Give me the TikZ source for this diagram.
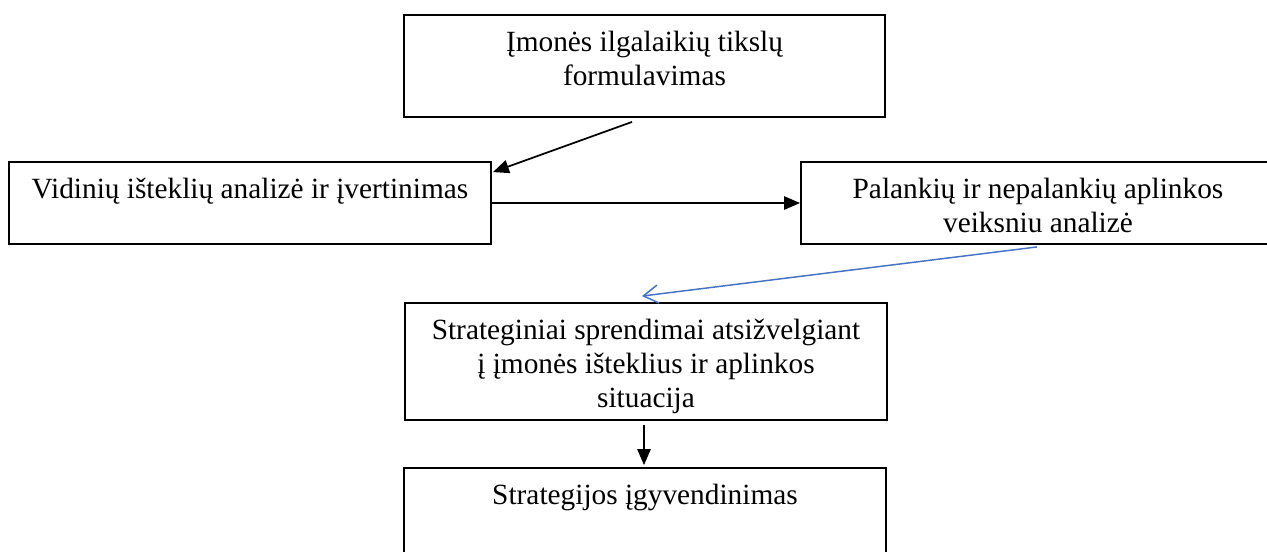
\documentclass[tikz,border=0pt]{standalone}
\usepackage{fontspec}
\setmainfont{Liberation Serif}
\usetikzlibrary{arrows.meta,calc}
\definecolor{linkblue}{RGB}{68,114,196}
% text block of fixed size, top aligned and centred; #1 moves the text centre left
\newcommand{\boxtext}[4][0pt]{\begin{minipage}[c][#3][t]{#2}\centering\rightskip=#1 plus 1fil\rule{0pt}{27.5pt}#4\end{minipage}}
\begin{document}
\begin{tikzpicture}[x=0.75pt,y=-0.75pt,
  stepbox/.style={draw,line width=1.4pt,inner sep=0pt,font=\fontsize{22pt}{25.5pt}\selectfont},
  arr/.style={line width=1.3pt,-{Triangle[length=12pt,width=10pt]}},
  barb/.style={draw=linkblue,line width=1.1pt,-{Straight Barb[length=11pt,width=13.5pt]}}]
\fill[white] (0,0) rectangle (1267,551);
\useasboundingbox (0,0) rectangle (1267,551);
\clip (0,0) rectangle (1267,551);

\node[stepbox] (goals) at (644.5,66)
  {\boxtext{360.75pt}{76.5pt}{Įmonės ilgalaikių tikslų\\formulavimas}};
\node[stepbox] (inner) at (250,203)
  {\boxtext{361.5pt}{61.5pt}{Vidinių išteklių analizė ir įvertinimas}};
% this box runs past the right edge of the page
\node[stepbox] (outer) at (1081,203)
  {\boxtext[64.5pt]{420pt}{61.5pt}{Palankių ir nepalankių aplinkos\\veiksniu analizė}};
\node[stepbox] (decide) at (646,361.5)
  {\boxtext{361.5pt}{87.75pt}{Strateginiai sprendimai atsižvelgiant\\į įmonės išteklius ir aplinkos\\situacija}};
\node[stepbox] (impl) at (645,526.5)
  {\boxtext{361.5pt}{87.75pt}{Strategijos įgyvendinimas}};

\draw[arr] ($(goals.south)+(-12.5,4)$) -- ($(inner.north east)+(1,11)$);
\draw[arr] (inner.east) -- (outer.west);
\draw[barb] ($(outer.south)+(-44,2)$) -- ($(decide.north)+(-4,-6)$);
\draw[arr] ($(decide.south)+(-2,4)$) -- ($(impl.north)+(-1,-2)$);
\end{tikzpicture}
\end{document}
